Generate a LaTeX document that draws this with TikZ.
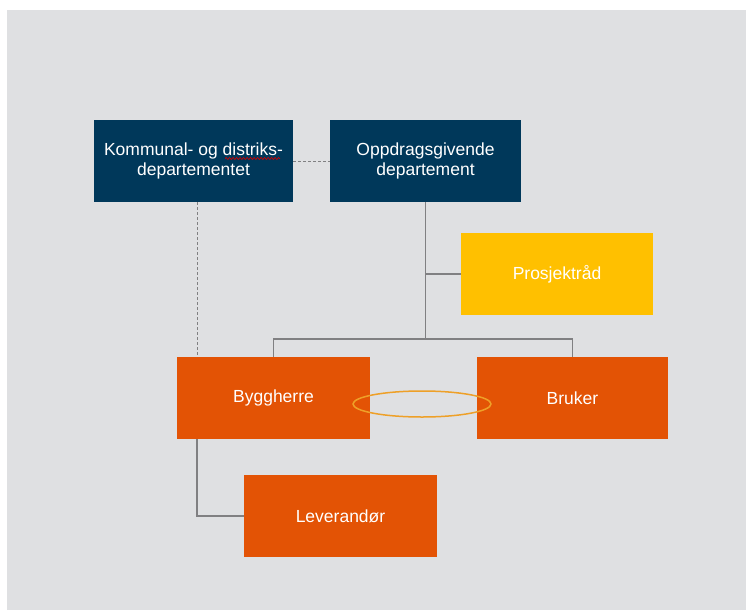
\documentclass[tikz,border=0pt]{standalone}
\usepackage{fontspec}
\setmainfont{Liberation Sans}
\usetikzlibrary{positioning,calc,decorations.pathmorphing}
\definecolor{bggrey}{RGB}{223,224,226}
\definecolor{navy}{RGB}{0,56,90}
\definecolor{rust}{RGB}{227,83,5}
\definecolor{gold}{RGB}{255,192,0}
\definecolor{ring}{RGB}{238,160,40}
\definecolor{linegrey}{RGB}{128,128,130}
\tikzset{>=latex}

\begin{document}
\begin{tikzpicture}[x=1pt,y=-1pt,
		box/.style={minimum height=82pt, inner sep=2pt, text=white, align=center, font=\fontsize{17.5}{20}\selectfont},
		link/.style={linegrey, line width=1.5pt},
		dotlink/.style={linegrey, line width=0.9pt, dash pattern=on 3pt off 2pt}]
		\useasboundingbox (0,0) rectangle (746,610);
		\fill[bggrey] (7,10) rectangle (746,610);
		% boxes
		\node[box, fill=navy, minimum width=199pt] (kdd) at (193.5,161) {Kommunal- og distriks-\\departementet};
		\node[box, fill=navy, minimum width=191pt] (od) at (425.5,161) {Oppdragsgivende\\departement};
		\node[box, fill=gold, minimum width=192pt] (pr) at (557,274) {Prosjektråd};
		\node[box, fill=rust, minimum width=193pt] (bh) at (273.5,398) {Byggherre};
		\node[box, fill=rust, minimum width=191pt] (br) at (572.5,398) {Bruker};
		\node[box, fill=rust, minimum width=193pt] (lev) at (340.5,516) {Leverandør};
		% lines
		\coordinate (split) at ($(od.south)+(0,137)$);
		\draw[link] (od.south) -- (split);
		\draw[link] (bh.north) |- (split) -| (br.north);
		\draw[link] (pr.west) -- (pr.west -| od.south);
		\draw[link] ([xshift=20pt]bh.south west) |- (lev.west);
		\draw[dotlink] (kdd.east) -- (od.west);
		\draw[dotlink] ([xshift=3.5pt]kdd.south) -- ([xshift=3.5pt]kdd.south |- bh.north);
		\draw[ring, line width=1.5pt] (422,404) ellipse (69pt and 13pt);
		\draw[red!80!black, line width=0.7pt, decorate, decoration={snake, amplitude=1pt, segment length=3.5pt}] (225,158.5) -- (280,158.5);
	\end{tikzpicture}
\end{document}
